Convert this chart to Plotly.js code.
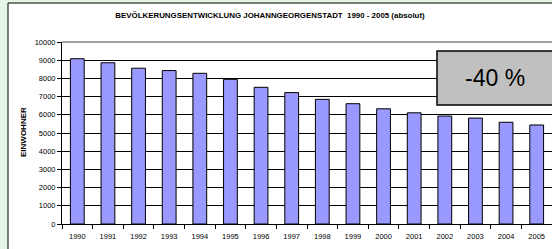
<!DOCTYPE html>
<html>
<head>
<meta charset="utf-8">
<script src="https://cdn.plot.ly/plotly-3.0.1.min.js"></script>
<style>html,body{margin:0;padding:0;background:#e6f6e6;}#chart{width:552px;height:249px;}</style>
</head>
<body>
<div id="chart"></div>
<script>
const years = ["1990","1991","1992","1993","1994","1995","1996","1997","1998","1999","2000","2001","2002","2003","2004","2005"];
const residents = [9080, 8860, 8560, 8430, 8280, 7950, 7510, 7220, 6850, 6610, 6330, 6110, 5930, 5820, 5590, 5440];
const changeLabel = "-40 %";
const chartTitle = "BEVÖLKERUNGSENTWICKLUNG JOHANNGEORGENSTADT  1990 - 2005 (absolut)";
const yTitle = "EINWOHNER";

const font = "Arial, 'Liberation Sans', sans-serif";
const L = 62, R = 552, T = 42, B = 224;
const px = x => (x - L) / (R - L);
const py = y => (B - y) / (B - T);

const trace = {
  type: "bar",
  x: years,
  y: residents,
  marker: {color: "#9999ff", line: {color: "#000000", width: 1}},
  hoverinfo: "x+y"
};

const layout = {
  width: 552, height: 249,
  margin: {l: L, r: 552 - R, t: T, b: 249 - B, pad: 0},
  paper_bgcolor: "#e6f6e6",
  plot_bgcolor: "#ffffff",
  showlegend: false,
  bargap: 0.55,
  font: {family: font, size: 7.5, color: "#000"},
  title: {
    text: "<b>" + chartTitle + "</b>",
    font: {family: font, size: 7.9, color: "#000"},
    xref: "paper", x: px(270), xanchor: "center",
    yref: "container", y: 1 - 15 / 249, yanchor: "middle"
  },
  xaxis: {
    type: "category",
    showline: true, linecolor: "#000", linewidth: 1,
    ticks: "outside", tickson: "boundaries", ticklen: 4, tickcolor: "#000", tickwidth: 1,
    ticklabelstandoff: 5,
    tickfont: {family: font, size: 7.5, color: "#000"},
    showgrid: false, zeroline: false,
    range: [-0.5, 15.5]
  },
  yaxis: {
    range: [0, 10000], dtick: 1000, tickformat: "d", exponentformat: "none",
    showline: true, linecolor: "#000", linewidth: 1,
    ticks: "outside", ticklen: 4, tickcolor: "#000", tickwidth: 1,
    tickfont: {family: font, size: 7.5, color: "#000"},
    showgrid: true, gridcolor: "#000", gridwidth: 1,
    zeroline: false,
    fixedrange: true
  },
  shapes: [
    {type: "rect", xref: "paper", yref: "paper", layer: "below",
     x0: px(8), x1: px(560), y0: py(260), y1: py(3),
     fillcolor: "#ffffff", line: {color: "#000", width: 1}},
    {type: "line", xref: "paper", yref: "paper", layer: "above",
     x0: 0, x1: px(560), y0: 1, y1: 1,
     line: {color: "#808080", width: 1.5}},
    {type: "rect", xref: "paper", yref: "paper", layer: "above",
     x0: px(437), x1: px(553), y0: py(105), y1: py(51),
     fillcolor: "#c0c0c0", line: {color: "#000", width: 1.5}}
  ],
  annotations: [
    {text: changeLabel, xref: "paper", yref: "paper", x: px(494.5), y: py(78),
     showarrow: false, xanchor: "center", yanchor: "middle",
     font: {family: font, size: 23, color: "#000"}},
    {text: "<b>" + yTitle + "</b>", xref: "paper", yref: "paper", x: px(23), y: py(132),
     showarrow: false, textangle: -90, xanchor: "center", yanchor: "middle",
     font: {family: font, size: 8, color: "#000"}}
  ]
};

Plotly.newPlot("chart", [trace], layout, {displayModeBar: false, staticPlot: true});
</script>
</body>
</html>
